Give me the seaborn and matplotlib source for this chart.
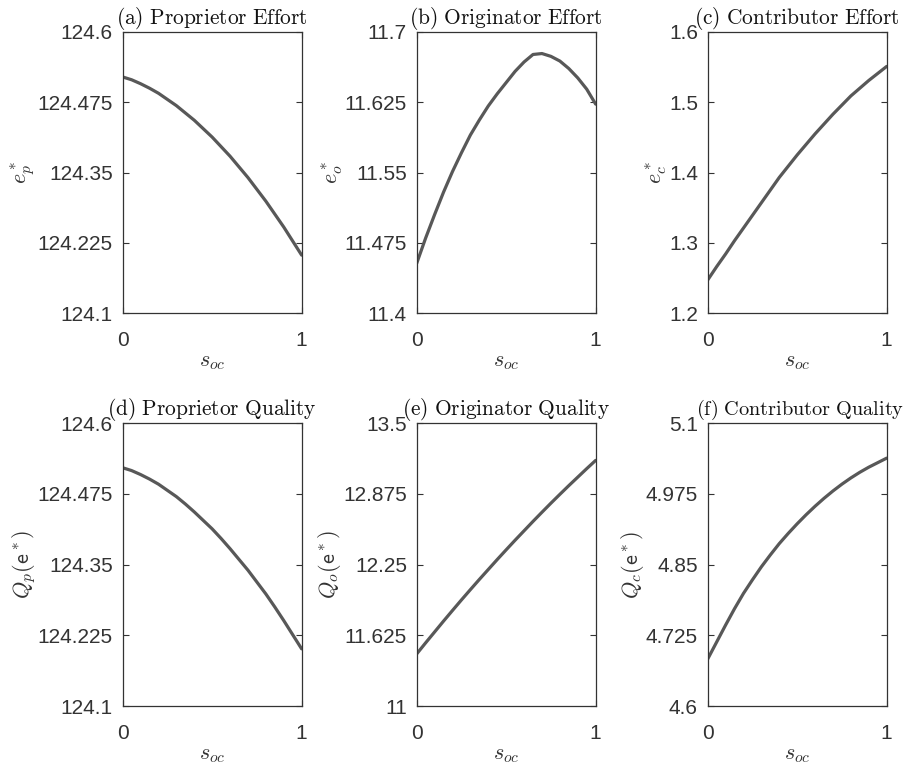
#!/usr/bin/env python3
"""
Equilibrium effort and quality against the sharing parameter s_oc.
"""
import matplotlib
matplotlib.use('Agg')
import matplotlib.pyplot as plt
import seaborn as sns

s_oc = [0.0, 0.05, 0.1, 0.15, 0.2, 0.25, 0.3, 0.35, 0.4, 0.45, 0.5,
        0.55, 0.6, 0.65, 0.7, 0.75, 0.8, 0.85, 0.9, 0.95, 1.0]

prop_effort = [124.520, 124.515, 124.508, 124.500, 124.491, 124.480,
               124.469, 124.456, 124.443, 124.428, 124.413, 124.396,
               124.379, 124.360, 124.341, 124.320, 124.299, 124.276,
               124.253, 124.228, 124.203]
orig_effort = [11.453, 11.480, 11.505, 11.529, 11.551, 11.571, 11.590,
               11.606, 11.621, 11.634, 11.646, 11.658, 11.668, 11.676,
               11.677, 11.674, 11.669, 11.661, 11.651, 11.639, 11.623]
contrib_effort = [1.247, 1.266, 1.284, 1.303, 1.321, 1.339, 1.357,
                  1.375, 1.393, 1.409, 1.425, 1.440, 1.455, 1.469,
                  1.483, 1.496, 1.509, 1.520, 1.531, 1.541, 1.551]
prop_quality = [124.521, 124.516, 124.509, 124.501, 124.492, 124.481,
                124.470, 124.457, 124.443, 124.428, 124.413, 124.396,
                124.378, 124.359, 124.340, 124.319, 124.298, 124.275,
                124.251, 124.226, 124.201]
orig_quality = [11.460, 11.558, 11.654, 11.750, 11.844, 11.937, 12.028,
                12.118, 12.206, 12.294, 12.380, 12.465, 12.548, 12.631,
                12.712, 12.792, 12.870, 12.947, 13.022, 13.097, 13.170]
contrib_quality = [4.683, 4.713, 4.743, 4.772, 4.799, 4.823, 4.846,
                   4.867, 4.887, 4.905, 4.922, 4.938, 4.953, 4.967,
                   4.980, 4.992, 5.003, 5.013, 5.022, 5.030, 5.038]

titles = ['(a) Proprietor Effort', '(b) Originator Effort',
          '(c) Contributor Effort', '(d) Proprietor Quality',
          '(e) Originator Quality', '(f) Contributor Quality']
ylabels = [r'$e^*_p$', r'$e^*_o$', r'$e^*_c$',
           r'$Q_p(\mathsf{e}^*)$', r'$Q_o(\mathsf{e}^*)$',
           r'$Q_c(\mathsf{e}^*)$']
yticks = [[124.1, 124.225, 124.35, 124.475, 124.6],
          [11.4, 11.475, 11.55, 11.625, 11.7],
          [1.2, 1.3, 1.4, 1.5, 1.6],
          [124.1, 124.225, 124.35, 124.475, 124.6],
          [11, 11.625, 12.25, 12.875, 13.5],
          [4.6, 4.725, 4.85, 4.975, 5.1]]
xticks = [0, 1]

series = [prop_effort, orig_effort, contrib_effort,
          prop_quality, orig_quality, contrib_quality]

sns.set_style('white')
plt.rcParams['font.family'] = ['Liberation Sans', 'DejaVu Sans']
plt.rcParams['mathtext.fontset'] = 'cm'

fig = plt.figure(figsize=(9.08, 7.71), dpi=100)
lefts = [0.1351, 0.4589, 0.7794]
bottoms = [0.594, 0.0843]
heights = [0.3645, 0.367]
width = 0.1971

axis_col = '#333333'
for i, vals in enumerate(series):
    r, c = divmod(i, 3)
    ax = fig.add_axes([lefts[c], bottoms[r], width, heights[r]])
    sns.lineplot(x=s_oc, y=vals, ax=ax, color='#585858', linewidth=2.3)
    ax.set_xlim(0, 1)
    ax.set_ylim(yticks[i][0], yticks[i][-1])
    ax.set_xticks(xticks)
    ax.set_xticklabels([f'{t:g}' for t in xticks])
    ax.set_yticks(yticks[i])
    ax.set_yticklabels([f'{t:g}' for t in yticks[i]])
    ax.tick_params(direction='in', length=4, width=0.8, colors=axis_col,
                   labelsize=15, left=True, right=True, top=True, bottom=True)
    ax.tick_params(axis='y', pad=7)
    ax.tick_params(axis='x', pad=13)
    for sp in ax.spines.values():
        sp.set_visible(True)
        sp.set_color(axis_col)
        sp.set_linewidth(0.9)
    title = r'$\mathrm{' + titles[i].replace(' ', r'\ ') + '}$'
    if i == 5:
        # last title is pushed right, against the figure edge
        ax.set_title(title, loc='right', x=1.1, fontsize=14.6, pad=6,
                     color='#111111')
    else:
        ax.set_title(title, fontsize=15.4, pad=6, color='#111111')
    ax.set_xlabel(r'$s_{oc}$', fontsize=16, color='#333333', labelpad=1)
    ax.set_ylabel(ylabels[i], fontsize=16, color='#333333', labelpad=0)

plt.savefig('out.png', dpi=100)
plt.close()
